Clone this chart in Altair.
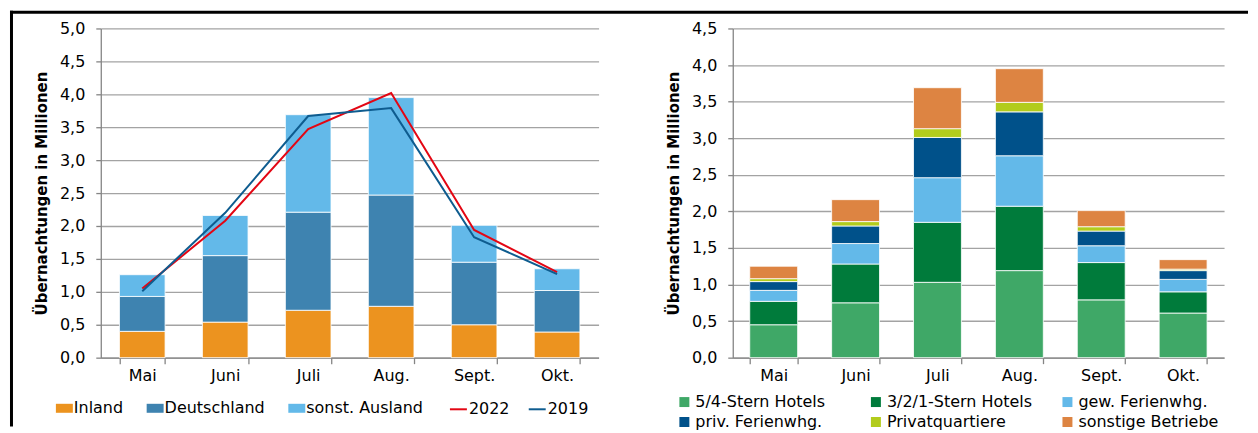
import altair as alt
import pandas as pd

FONT = "DejaVu Sans"

months = ["Mai", "Juni", "Juli", "Aug.", "Sept.", "Okt."]

# Left chart: overnight stays by origin (millions)
origin_names = ["Inland", "Deutschland", "sonst. Ausland"]
inland = [0.40, 0.54, 0.72, 0.78, 0.50, 0.39]
deutschland = [0.53, 1.01, 1.49, 1.69, 0.95, 0.63]
ausland = [0.33, 0.61, 1.48, 1.48, 0.56, 0.33]
origin_colors = ["#EC931F", "#3E83B0", "#63B9E9"]

# Left chart: total lines
line_names = ["2022", "2019"]
total_2022 = [1.05, 2.08, 3.47, 4.02, 1.94, 1.30]
total_2019 = [1.01, 2.20, 3.67, 3.79, 1.83, 1.27]
line_colors = ["#E30613", "#0E5C8F"]

# Right chart: overnight stays by accommodation type (millions)
type_names = ["5/4-Stern Hotels", "3/2/1-Stern Hotels", "gew. Ferienwhg.",
              "priv. Ferienwhg.", "Privatquartiere", "sonstige Betriebe"]
hotels_54 = [0.45, 0.75, 1.03, 1.19, 0.79, 0.61]
hotels_321 = [0.32, 0.53, 0.82, 0.88, 0.51, 0.29]
gew_fewo = [0.15, 0.28, 0.61, 0.69, 0.23, 0.17]
priv_fewo = [0.12, 0.24, 0.55, 0.60, 0.20, 0.12]
privatquartiere = [0.04, 0.06, 0.12, 0.13, 0.06, 0.02]
sonstige = [0.17, 0.30, 0.56, 0.46, 0.22, 0.13]
type_colors = ["#3FA867", "#007B3B", "#63B9E9", "#00518A", "#B2CC1C", "#DD8442"]

y_left_ticks = [0.0, 0.5, 1.0, 1.5, 2.0, 2.5, 3.0, 3.5, 4.0, 4.5, 5.0]
y_right_ticks = [0.0, 0.5, 1.0, 1.5, 2.0, 2.5, 3.0, 3.5, 4.0, 4.5]

# ---- tables built from the lists ----
left_rows = []
for k, (name, vals) in enumerate(zip(origin_names, [inland, deutschland, ausland])):
    for m, v in zip(months, vals):
        left_rows.append({"Monat": m, "Herkunft": name, "Wert": v, "k": k})
left_df = pd.DataFrame(left_rows)

line_rows = []
for name, vals in zip(line_names, [total_2022, total_2019]):
    for m, v in zip(months, vals):
        line_rows.append({"Monat": m, "Jahr": name, "Wert": v})
line_df = pd.DataFrame(line_rows)

right_rows = []
for k, (name, vals) in enumerate(zip(type_names, [hotels_54, hotels_321, gew_fewo,
                                                  priv_fewo, privatquartiere, sonstige])):
    for m, v in zip(months, vals):
        right_rows.append({"Monat": m, "Art": name, "Wert": v, "k": k})
right_df = pd.DataFrame(right_rows)

label_expr = "replace(format(datum.value, '.1f'), '.', ',')"
AXIS_GREY = "#858585"


def y_axis(ticks):
    return alt.Axis(
        values=ticks, labelExpr=label_expr, title="Übernachtungen in Millionen",
        labelFont=FONT, labelFontSize=16, labelColor="black", labelPadding=11,
        tickSize=5, tickColor=AXIS_GREY, tickWidth=1.3,
        domainColor=AXIS_GREY, domainWidth=1.3,
        grid=True, gridColor="#a3a3a3", gridWidth=1.3,
        titleFont=FONT, titleFontSize=15, titleFontWeight="bold", titleColor="black",
        titlePadding=10,
    )


def x_axis():
    return alt.Axis(
        title=None, labelAngle=0, tickBand="extent", tickSize=6,
        tickColor=AXIS_GREY, tickWidth=1.3, domainColor=AXIS_GREY, domainWidth=1.3,
        labelFont=FONT, labelFontSize=16, labelColor="black", labelPadding=4,
        grid=False,
    )


left_x_scale = alt.Scale(paddingInner=0.45, paddingOuter=0.225)
left_y_scale = alt.Scale(domain=[0, 5], nice=False)

bars_left = alt.Chart(left_df).mark_bar(stroke="white", strokeWidth=0.8).encode(
    x=alt.X("Monat:N", sort=months, scale=left_x_scale, axis=x_axis()),
    y=alt.Y("Wert:Q", stack="zero", scale=left_y_scale, axis=y_axis(y_left_ticks)),
    color=alt.Color("Herkunft:N",
                    scale=alt.Scale(domain=origin_names, range=origin_colors),
                    legend=alt.Legend(
                        title=None, orient="none", legendX=-45, legendY=372,
                        direction="horizontal", symbolType="M-1,-0.53H1V0.53H-1Z",
                        symbolSize=289, symbolStrokeWidth=0, labelFont=FONT,
                        labelFontSize=16, labelColor="black", labelOffset=1,
                        columnPadding=23, padding=0)),
    order=alt.Order("k:Q", sort="ascending"),
)

lines_left = alt.Chart(line_df).mark_line(strokeWidth=2).encode(
    x=alt.X("Monat:N", sort=months, scale=left_x_scale, axis=x_axis()),
    y=alt.Y("Wert:Q", stack=None, scale=left_y_scale, axis=y_axis(y_left_ticks)),
    stroke=alt.Stroke("Jahr:N",
                      scale=alt.Scale(domain=line_names, range=line_colors),
                      legend=alt.Legend(
                          title=None, orient="none", legendX=349, legendY=372,
                          direction="horizontal", symbolType="stroke",
                          symbolSize=289, symbolStrokeWidth=2, labelFont=FONT,
                          labelFontSize=16, labelColor="black", labelOffset=1,
                          columnPadding=15, padding=0)),
)

frame_df = pd.DataFrame({"f": [0]})
frame_v = alt.Chart(frame_df).mark_rule(color="black", strokeWidth=3).encode(
    x=alt.value(-89.5), y=alt.value(-17.7), y2=alt.value(399))
frame_h = alt.Chart(frame_df).mark_rule(color="black", strokeWidth=3).encode(
    x=alt.value(-91), x2=alt.value(1150), y=alt.value(-16.2))

left = alt.layer(bars_left, lines_left, frame_v, frame_h).properties(width=499, height=330)

right_x = alt.X("Monat:N", sort=months,
                scale=alt.Scale(paddingInner=0.415, paddingOuter=0.2075), axis=x_axis())

right = alt.Chart(right_df).mark_bar(stroke="white", strokeWidth=0.8).encode(
    x=right_x,
    y=alt.Y("Wert:Q", stack="zero", scale=alt.Scale(domain=[0, 4.5], nice=False),
            axis=y_axis(y_right_ticks)),
    color=alt.Color("Art:N",
                    scale=alt.Scale(domain=type_names, range=type_colors),
                    legend=alt.Legend(
                        title=None, orient="none", legendX=-56.5, legendY=366.5,
                        direction="horizontal", columns=3, gridAlign="all",
                        symbolType="square", symbolSize=100, symbolStrokeWidth=0,
                        labelFont=FONT, labelFontSize=16, labelColor="black",
                        labelOffset=3, columnPadding=27, rowPadding=4, padding=0)),
    order=alt.Order("k:Q", sort="ascending"),
).properties(width=492.5, height=330)

chart = alt.hconcat(left, right, spacing=134.5, bounds="flush").resolve_scale(
    color="independent", x="independent", y="independent"
).resolve_legend(color="independent").properties(padding=0).configure_view(stroke=None)

chart.save("out.html", embed_options={"renderer": "svg", "actions": False})
